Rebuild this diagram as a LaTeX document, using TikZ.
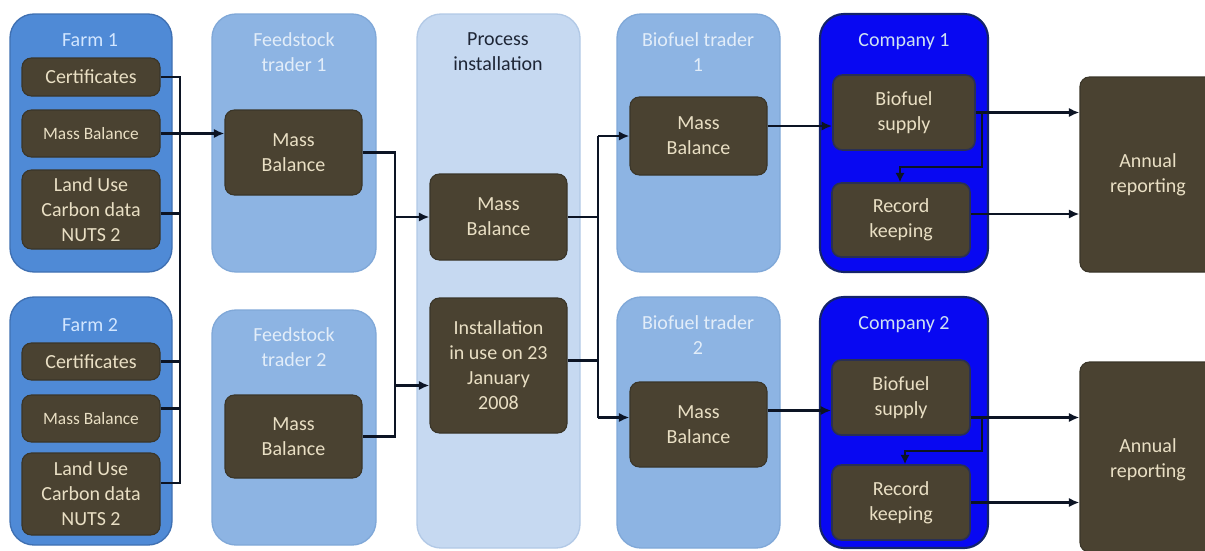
\documentclass[tikz,border=0pt]{standalone}
\usepackage{fontspec}
\setmainfont{Carlito}
\usetikzlibrary{calc,arrows.meta}
\definecolor{farmfill}{HTML}{4F8AD6}
\definecolor{farmedge}{HTML}{3F70B2}
\definecolor{traderfill}{HTML}{8DB4E3}
\definecolor{traderedge}{HTML}{80A8D8}
\definecolor{procfill}{HTML}{C6D9F1}
\definecolor{procedge}{HTML}{B2C9E6}
\definecolor{compblue}{HTML}{0808F2}
\definecolor{compedge}{HTML}{14246A}
\definecolor{boxfill}{HTML}{4A4231}
\definecolor{boxedge}{HTML}{3A3528}
\definecolor{boxtext}{HTML}{E9DFC4}
\definecolor{wirec}{HTML}{0C1424}
\definecolor{farmtitle}{HTML}{D2E6FF}
\definecolor{tradertitle}{HTML}{E2EDF9}
\definecolor{proctitle}{HTML}{1E2636}
\definecolor{comptitle}{HTML}{CFE2F2}
\newcommand{\mkbox}[7]{\node[#1, minimum width={(#5-#3)*0.75pt}, minimum height={(#6-#4)*0.75pt}] (#2) at ({(#3+#5)/2},{(#4+#6)/2}) {#7};}
\tikzset{
  cont/.style={rounded corners=18pt, line width=1pt, inner sep=0pt},
  farm/.style={cont, fill=farmfill, draw=farmedge},
  trader/.style={cont, fill=traderfill, draw=traderedge},
  proc/.style={cont, fill=procfill, draw=procedge},
  comp/.style={cont, fill=compblue, draw=compedge, line width=1.6pt},
  inbox/.style={fill=boxfill, draw=boxedge, line width=0.8pt, rounded corners=7pt, text=boxtext, align=center, inner sep=0pt, font=\fontsize{15}{18.75}\selectfont},
  smallbox/.style={inbox, font=\fontsize{13}{16}\selectfont},
  cbox/.style={inbox, draw=compedge!60!boxfill, line width=1.2pt},
  ttl/.style={align=center, inner sep=0pt, font=\fontsize{15}{18.75}\selectfont},
  wire/.style={line width=1.8pt, draw=wirec},
  arr/.style={wire, -{Latex[length=8pt,width=7pt]}}
}
\begin{document}
\begin{tikzpicture}[x=0.75pt,y=-0.75pt]
\useasboundingbox (0,0) rectangle (1205,550);
\clip (0,0) rectangle (1205,550);
% containers
\mkbox{farm}{farmA}{10}{14}{172}{272}{}
\mkbox{farm}{farmB}{10}{297}{172}{545}{}
\mkbox{trader}{ftA}{212}{14}{376}{272}{}
\mkbox{trader}{ftB}{212}{310}{376}{545}{}
\mkbox{proc}{procC}{417}{14}{580}{548}{}
\mkbox{trader}{btA}{617}{14}{780}{272}{}
\mkbox{trader}{btB}{617}{297}{780}{548}{}
\mkbox{comp}{compA}{820}{14}{988}{272}{}
\mkbox{comp}{compB}{820}{297}{988}{548}{}
% titles
\node[ttl, text=farmtitle] (tfarmA) at (90,40) {Farm 1};
\node[ttl, text=farmtitle] (tfarmB) at (90,325) {Farm 2};
\node[ttl, text=tradertitle] (tftA) at (294,52) {Feedstock\\trader 1};
\node[ttl, text=tradertitle] (tftB) at (294,347) {Feedstock\\trader 2};
\node[ttl, text=proctitle] (tproc) at (498,52) {Process\\installation};
\node[ttl, text=tradertitle] (tbtA) at (698,52) {Biofuel trader\\1};
\node[ttl, text=tradertitle] (tbtB) at (698,335) {Biofuel trader\\2};
\node[ttl, text=comptitle] (tcompA) at (904,42) {Company 1};
\node[ttl, text=comptitle] (tcompB) at (904,325) {Company 2};
% inner boxes
\mkbox{inbox}{fAcert}{22}{58}{160}{96}{Certificates}
\mkbox{smallbox}{fAmb}{22}{110}{160}{157}{Mass Balance}
\mkbox{inbox}{fAland}{22}{170}{160}{249}{Land Use\\Carbon data\\NUTS 2}
\mkbox{inbox}{fBcert}{22}{343}{160}{380}{Certificates}
\mkbox{smallbox}{fBmb}{22}{395}{160}{442}{Mass Balance}
\mkbox{inbox}{fBland}{22}{453}{160}{535}{Land Use\\Carbon data\\NUTS 2}
\mkbox{inbox}{ftAmb}{225}{110}{362}{195}{Mass\\Balance}
\mkbox{inbox}{ftBmb}{225}{395}{362}{478}{Mass\\Balance}
\mkbox{inbox}{pmb}{430}{174}{567}{260}{Mass\\Balance}
\mkbox{inbox}{pinst}{430}{298}{567}{433}{Installation\\in use on 23\\January\\2008}
\mkbox{inbox}{btAmb}{630}{97}{767}{175}{Mass\\Balance}
\mkbox{inbox}{btBmb}{630}{382}{767}{467}{Mass\\Balance}
\mkbox{cbox}{cAsup}{833}{75}{975}{150}{Biofuel\\supply}
\mkbox{cbox}{cArec}{832}{183}{970}{257}{Record\\keeping}
\mkbox{cbox}{cBsup}{832}{360}{970}{435}{Biofuel\\supply}
\mkbox{cbox}{cBrec}{832}{465}{970}{540}{Record\\keeping}
\mkbox{inbox}{annA}{1080}{77}{1240}{272}{}
\mkbox{inbox}{annB}{1080}{362}{1240}{552}{}
\node[ttl, text=boxtext] (tannA) at (1148,175) {Annual\\reporting};
\node[ttl, text=boxtext] (tannB) at (1148,460) {Annual\\reporting};
% bus coordinates
\coordinate (busF) at (180,0);
\coordinate (busT) at (395,0);
\coordinate (busP) at (598,0);
\coordinate (busCA) at (982,0);
\coordinate (busCB) at (982,0);
% farm connectors
\draw[wire] (fAcert.east) -| ($(fBland.east -| busF)+(0,-11)$) -- ($(fBland.east)+(0,-11)$);
\draw[wire] ($(fAland.east)+(0,4)$) -- ($(fAland.east -| busF)+(0,4)$);
\draw[wire] (fBcert.east) -- (fBcert.east -| busF);
\draw[wire] ($(fBmb.east)+(0,-10)$) -- ($(fBmb.east -| busF)+(0,-10)$);
\draw[arr] (fAmb.east) -- (fAmb.east -| ftAmb.west);
% feedstock traders to process
\draw[wire] (ftAmb.east) -| (busT |- ftBmb.east) -- (ftBmb.east);
\draw[arr] (pmb.west -| busT) -- (pmb.west);
\draw[arr] ($(pinst.west -| busT)+(0,20)$) -- ($(pinst.west)+(0,20)$);
% process to biofuel traders
\draw[wire] (pmb.east) -- (pmb.east -| busP);
\draw[wire] ($(pinst.east)+(0,-5)$) -- ($(pinst.east -| busP)+(0,-5)$);
\draw[arr] (busP |- btAmb.west) -- (btAmb.west);
\draw[arr] ($(busP |- btBmb.west)+(0,-7)$) -- ($(btBmb.west)+(0,-7)$);
\draw[wire] (busP |- btAmb.west) -- ($(busP |- btBmb.west)+(0,-7)$);
% biofuel traders to companies
\draw[arr] ($(btAmb.east)+(0,-10)$) -- ($(btAmb.east -| cAsup.west)+(0,-10)$);
\draw[arr] ($(btBmb.east)+(0,-14)$) -- ($(btBmb.east -| cBsup.west)+(0,-14)$);
% company 1
\draw[arr] (cAsup.east) -- (cAsup.east -| annA.west);
\draw[arr] ($(cArec.east)+(0,-6)$) -- ($(cArec.east -| annA.west)+(0,-6)$);
\draw[wire, -{Latex[length=7pt,width=7pt]}] (busCA |- cAsup.east) -- ($(busCA |- cArec.north)+(0,-15)$) -- ($(cArec.north)+(0,-15)+(-1,0)$) -- ($(cArec.north)+(-1,0)$);
% company 2
\draw[arr] ($(cBsup.east)+(0,20)$) -- ($(cBsup.east -| annB.west)+(0,20)$);
\draw[arr] (cBrec.east) -- (cBrec.east -| annB.west);
\draw[wire, -{Latex[length=7pt,width=7pt]}] ($(busCB |- cBsup.east)+(0,20)$) -- ($(busCB |- cBrec.north)+(0,-13)$) -- ($(cBrec.north)+(0,-13)+(4,0)$) -- ($(cBrec.north)+(4,0)$);
\end{tikzpicture}
\end{document}
